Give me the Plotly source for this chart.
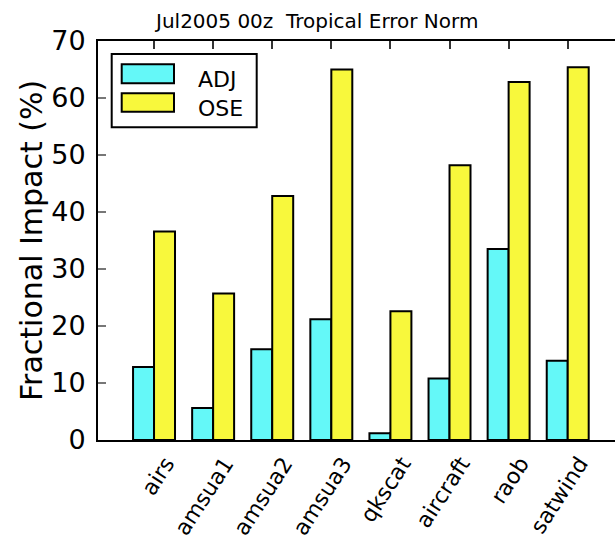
import plotly.graph_objects as go

categories = ["airs", "amsua1", "amsua2", "amsua3", "qkscat", "aircraft", "raob", "satwind"]
adj_values = [12.8, 5.6, 15.9, 21.2, 1.2, 10.8, 33.5, 13.9]
ose_values = [36.6, 25.7, 42.8, 65.0, 22.6, 48.2, 62.8, 65.4]
y_ticks = [0, 10, 20, 30, 40, 50, 60, 70]

CYAN = "#64f8f8"
YELLOW = "#f8f83c"
W, H = 615, 542
ML, MT, MB, MR = 98, 41, 102, 0
PW = W - ML - MR
PH = H - MT - MB

def px(x):
    return (x - ML) / PW

def py(y):
    return (H - MB - y) / PH

FONT = "DejaVu Sans"

fig = go.Figure()
fig.add_trace(go.Bar(x=list(range(len(categories))), y=adj_values, name="ADJ",
                     marker=dict(color=CYAN, line=dict(color="black", width=2)),
                     showlegend=False))
fig.add_trace(go.Bar(x=list(range(len(categories))), y=ose_values, name="OSE",
                     marker=dict(color=YELLOW, line=dict(color="black", width=2)),
                     showlegend=False))

fig.update_layout(
    width=W, height=H,
    margin=dict(l=ML, r=MR, t=MT, b=MB, pad=0, autoexpand=False),
    paper_bgcolor="white", plot_bgcolor="white",
    barmode="group", bargap=0.29, bargroupgap=0,
    font=dict(family=FONT, color="black"),
    showlegend=False,
)
fig.update_xaxes(
    range=[-0.948, 7.80], automargin=False,
    tickmode="array", tickvals=list(range(len(categories))), ticktext=categories,
    tickangle=-57, tickfont=dict(size=22, family=FONT),
    ticks="inside", ticklen=8, tickwidth=1.5, tickcolor="#333333",
    ticklabelshift=12, ticklabelstandoff=0,
    showline=True, linecolor="black", linewidth=2, mirror="ticks",
    showgrid=False, zeroline=False, layer="below traces",
)
fig.update_yaxes(
    range=[0, 70], tickmode="array", tickvals=y_ticks, automargin=False,
    tickfont=dict(size=27, family=FONT),
    ticks="inside", ticklen=8, tickwidth=1.5, tickcolor="#777777",
    ticklabelstandoff=5,
    showline=True, linecolor="black", linewidth=2, mirror=False,
    showgrid=False, zeroline=False,
)

annotations = [
    dict(text="Jul2005 00z\u00a0 Tropical Error Norm", xref="paper", yref="paper",
         x=px(316), y=py(21), xanchor="center", yanchor="middle", showarrow=False,
         font=dict(size=20, family=FONT, color="black")),
    dict(text="Fractional Impact (%)", xref="paper", yref="paper",
         x=px(31), y=py(241), xanchor="center", yanchor="middle", showarrow=False,
         textangle=-90, font=dict(size=30, family=FONT, color="black")),
    dict(text="ADJ", xref="paper", yref="paper", x=px(196), y=py(79),
         xanchor="left", yanchor="middle", showarrow=False,
         font=dict(size=22, family=FONT, color="black")),
    dict(text="OSE", xref="paper", yref="paper", x=px(196), y=py(108),
         xanchor="left", yanchor="middle", showarrow=False,
         font=dict(size=22, family=FONT, color="black")),
]
shapes = [
    dict(type="rect", xref="paper", yref="paper", x0=px(111.7), x1=px(256.7),
         y0=py(127.3), y1=py(54), line=dict(color="black", width=2), fillcolor="white"),
    dict(type="rect", xref="paper", yref="paper", x0=px(121.7), x1=px(174),
         y0=py(83.3), y1=py(64.3), line=dict(color="black", width=2), fillcolor=CYAN),
    dict(type="rect", xref="paper", yref="paper", x0=px(121.7), x1=px(174),
         y0=py(111.7), y1=py(93.3), line=dict(color="black", width=2), fillcolor=YELLOW),
]
fig.update_layout(annotations=annotations, shapes=shapes)

fig.write_html("out.html")
